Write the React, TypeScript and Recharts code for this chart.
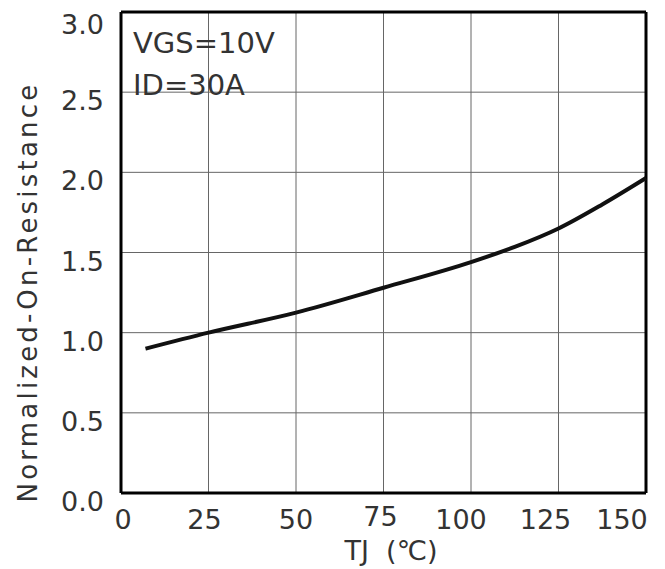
import {
  LineChart,
  Line,
  XAxis,
  YAxis,
  CartesianGrid,
  ReferenceLine,
} from "recharts";

// Junction temperature (°C) and normalized on-resistance
const tempC = [7, 25, 50, 75, 100, 112.5, 125, 137.5, 150];
const normRds = [0.9, 1.0, 1.125, 1.28, 1.44, 1.535, 1.65, 1.8, 1.965];

const xTicks = [0, 25, 50, 75, 100, 125, 150];
const yTicks = [0, 0.5, 1.0, 1.5, 2.0, 2.5, 3.0];

const data = tempC.map((t, i) => ({ t, r: normRds[i] }));

const FONT = "'DejaVu Sans', sans-serif";
const TEXT = "#333";

// nudges so labels sit like the original drawing
const xShift: { [k: number]: number } = {
  0: 2,
  25: -4,
  50: 0,
  75: -3,
  100: -10,
  125: -13,
  150: -24,
};

const XTick = (props: any) => {
  const { x, y, payload } = props;
  const v = payload.value as number;
  return (
    <text
      x={x + (xShift[v] ?? 0)}
      y={y}
      dy={v === 75 ? 25 : 28}
      textAnchor="middle"
      fontFamily={FONT}
      fontSize={27}
      fill={TEXT}
    >
      {v}
    </text>
  );
};

const YTick = (props: any) => {
  const { y, payload } = props;
  const v = payload.value as number;
  return (
    <text
      x={104}
      y={y}
      dy={v === 3 ? 22 : 18}
      textAnchor="end"
      fontFamily={FONT}
      fontSize={27}
      fill={TEXT}
    >
      {v.toFixed(1)}
    </text>
  );
};

export default function App() {
  return (
    <div style={{ position: "absolute", left: 0, top: 0, width: 665, height: 569, background: "#fff" }}>
      <LineChart
        width={665}
        height={569}
        data={data}
        margin={{ top: 12, right: 19, left: 0, bottom: 0 }}
      >
        <CartesianGrid stroke="#666" strokeWidth={1} />
        <XAxis
          dataKey="t"
          type="number"
          domain={[0, 150]}
          ticks={xTicks}
          tickLine={false}
          axisLine={{ stroke: "#000", strokeWidth: 3 }}
          tick={<XTick />}
          height={76}
          interval={0}
        />
        <YAxis
          type="number"
          domain={[0, 3]}
          ticks={yTicks}
          tickLine={false}
          axisLine={{ stroke: "#000", strokeWidth: 3 }}
          tick={<YTick />}
          width={121}
          interval={0}
        />
        <ReferenceLine x={150} stroke="#000" strokeWidth={3} />
        <ReferenceLine y={3} stroke="#000" strokeWidth={3} />
        <Line
          type="monotone"
          dataKey="r"
          stroke="#111"
          strokeWidth={4}
          dot={false}
          isAnimationActive={false}
        />
      </LineChart>

      <div
        style={{
          position: "absolute",
          left: 133,
          top: 22,
          fontFamily: FONT,
          fontSize: 29,
          lineHeight: "42px",
          color: TEXT,
          whiteSpace: "nowrap",
        }}
      >
        VGS=10V
        <br />
        ID=30A
      </div>

      <div
        style={{
          position: "absolute",
          left: 28,
          top: 292,
          transform: "translate(-50%, -50%) rotate(-90deg)",
          fontFamily: FONT,
          fontSize: 26,
          letterSpacing: 3.2,
          color: TEXT,
          whiteSpace: "nowrap",
        }}
      >
        Normalized-On-Resistance
      </div>

      <div
        style={{
          position: "absolute",
          left: 391,
          top: 550,
          transform: "translate(-50%, -50%)",
          fontFamily: FONT,
          fontSize: 27,
          color: TEXT,
          whiteSpace: "pre",
        }}
      >
        TJ  (℃)
      </div>
    </div>
  );
}
